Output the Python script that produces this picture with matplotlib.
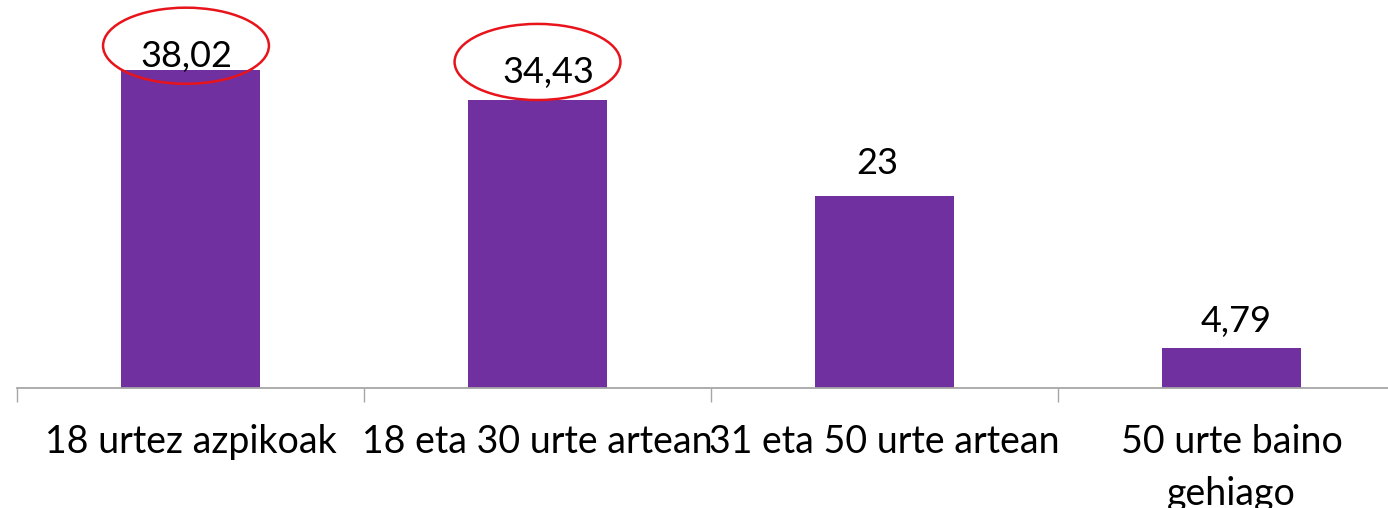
import matplotlib
matplotlib.use("Agg")
import matplotlib.pyplot as plt
from matplotlib.patches import Ellipse

# ---- data ----
categories = ["18 urtez azpikoak", "18 eta 30 urte artean",
              "31 eta 50 urte artean", "50 urte baino\ngehiago"]
values = [38.02, 34.43, 23, 4.79]
value_labels = ["38,02", "34,43", "23", "4,79"]
highlighted = [0, 1]

# ---- style ----
BAR_COLOR = "#7030A0"
AXIS_COLOR = "#A6A6A6"
FONT = ["Lato", "DejaVu Sans"]
# manual nudges of the value labels (pixels: dx, dy above bar top)
label_nudges = [(-4, 3), (11, 17), (-7, 22), (5, 16)]
# highlight ellipses: (dx in data units, centre height above bar top in data units)
ellipse_shift = {0: (-0.013, 2.9), 1: (0.0, 4.55)}
ELL_W, ELL_H = 0.478, 9.1

DPI = 100
fig = plt.figure(figsize=(13.88, 5.08), dpi=DPI)
ax = fig.add_axes([17 / 1388, 120 / 508, 1 - 17 / 1388, 388 / 508])

x = list(range(len(categories)))
ax.bar(x, values, width=0.4, color=BAR_COLOR, zorder=2)

for side in ("left", "right", "top"):
    ax.spines[side].set_visible(False)
ax.spines["bottom"].set_color(AXIS_COLOR)
ax.spines["bottom"].set_linewidth(1.3)
ax.set_yticks([])

# boundaries ticks (major) and category labels (minor)
ax.set_xticks([i - 0.5 for i in range(len(categories) + 1)])
ax.set_xticklabels([])
ax.tick_params(axis="x", which="major", direction="out", length=10,
               width=1.0, color=AXIS_COLOR)
ax.set_xticks(x, minor=True)
ax.set_xticklabels(categories, minor=True, fontsize=27, family=FONT,
                   linespacing=1.55)
ax.tick_params(axis="x", which="minor", length=0, pad=26)

# limits after the ticks (set_xticks may widen the view)
ax.set_xlim(-0.5, -0.5 + 1371 / 347)
ax.set_ylim(0, 388 / 8.364)

px2pt = 72 / DPI
for i, (v, lab) in enumerate(zip(values, value_labels)):
    dx, dy = label_nudges[i]
    ax.annotate(lab, xy=(i, v), xytext=(dx * px2pt, dy * px2pt),
                textcoords="offset points", ha="center", va="baseline",
                fontsize=26, family=FONT, color="black", zorder=3)

for i in highlighted:
    sx, sy = ellipse_shift[i]
    ax.add_patch(Ellipse((i + sx, values[i] + sy), ELL_W, ELL_H,
                         fill=False, edgecolor="#E8141B", linewidth=1.8,
                         zorder=4, clip_on=False))

fig.savefig("out.png", dpi=DPI, bbox_inches=None)
